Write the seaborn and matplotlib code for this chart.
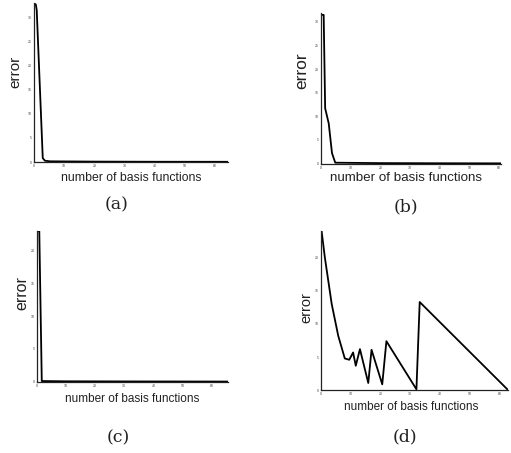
import numpy as np
import pandas as pd
import seaborn as sns
import matplotlib.pyplot as plt

# values (x = number of basis functions, y = error)
a_x = [0, 0.6, 0.9, 2.9, 3.6, 5.3, 20, 40, 64.2]
a_y = [32.8, 32.6, 31.4, 0.8, 0.27, 0.14, 0.08, 0.05, 0.04]

b_x = [0, 0.9, 1.4, 2.6, 3.7, 4.8, 20, 40, 60.6]
b_y = [31.5, 31.5, 11.7, 8.5, 2.2, 0.17, 0.08, 0.05, 0.03]

c_x = [0, 0.95, 1.8, 10, 30, 50, 65.4]
c_y = [23.0, 23.0, 0.1, 0.06, 0.04, 0.03, 0.02]

d_x = [0.2, 1.3, 3.6, 5.8, 8.0, 9.5, 10.8, 11.7, 13.1, 15.9, 17.0, 20.6, 22.0,
       32.1, 33.2, 62.9]
d_y = [24.0, 20.0, 13.0, 8.2, 4.8, 4.6, 5.7, 3.7, 6.2, 1.1, 6.1, 0.9, 7.4,
       0.15, 13.3, 0.05]

x_ticks = [0, 10, 20, 30, 40, 50, 60]
a_yticks = [0, 5, 10, 15, 20, 25, 30]
b_yticks = [0, 5, 10, 15, 20, 25, 30]
c_yticks = [0, 5, 10, 15, 20]
d_yticks = [0, 5, 10, 15, 20]

captions = ["(a)", "(b)", "(c)", "(d)"]

W, H = 511, 453
sns.set_style("white")
plt.rcParams['font.family'] = ['Liberation Sans', 'DejaVu Sans']

fig = plt.figure(figsize=(W / 100, H / 100), dpi=100)


def make_ax(left, right, top, bottom):
    return fig.add_axes([left / W, 1 - bottom / H, (right - left) / W, (bottom - top) / H])


panels = [
    # x, y, yticks, box (left, right, top, bottom px), ylim top, xlim right,
    # xlabel centre, xlabel size, ylabel centre, ylabel size, caption centre
    (a_x, a_y, a_yticks, (34, 228, 3, 162), 32.9, 64.2, (131, 178), 8.8, (15, 72), 11, (117, 205)),
    (b_x, b_y, b_yticks, (321, 501, 13, 163.5), 31.9, 60.6, (406, 178), 9.6, (302, 71), 12.5, (406, 207)),
    (c_x, c_y, c_yticks, (36.5, 228, 231, 381.7), 23.0, 65.4, (132, 399), 8.5, (22, 293), 11.5, (118, 438)),
    (d_x, d_y, d_yticks, (321, 508, 231, 390.3), 24.0, 62.9, (411, 407), 8.5, (306, 308), 10.5, (405, 437)),
]

for i, (xs, ys, yt, box, ytop, xright, xl, xl_size, yl, yl_size, cap) in enumerate(panels):
    ax = make_ax(*box)
    df = pd.DataFrame({"n": xs, "err": ys})
    sns.lineplot(data=df, x="n", y="err", ax=ax, color="black", lw=1.3,
                 estimator=None, sort=False)
    ax.set_xlim(0, xright)
    ax.set_ylim(0, ytop)
    ax.set_xticks(x_ticks)
    ax.set_yticks(yt)
    ax.tick_params(direction="in", length=2, width=0.6, labelsize=2.5,
                   pad=1.5, colors="black", labelcolor="#444444")
    sns.despine(ax=ax)
    for side in ["left", "bottom"]:
        ax.spines[side].set_linewidth(0.9)
        ax.spines[side].set_color("#222222")
    ax.set_xlabel("")
    ax.set_ylabel("")
    ax.patch.set_alpha(0)

    fig.text(xl[0] / W, 1 - xl[1] / H, "number of basis functions",
             ha="center", va="center", fontsize=xl_size, color="#222222")
    fig.text(yl[0] / W, 1 - yl[1] / H, "error", rotation=90,
             ha="center", va="center", fontsize=yl_size, color="#222222")
    fig.text(cap[0] / W, 1 - cap[1] / H, captions[i], ha="center", va="center",
             fontsize=12.5, family="DejaVu Serif", color="#222222")

fig.savefig("out.png", dpi=100)
